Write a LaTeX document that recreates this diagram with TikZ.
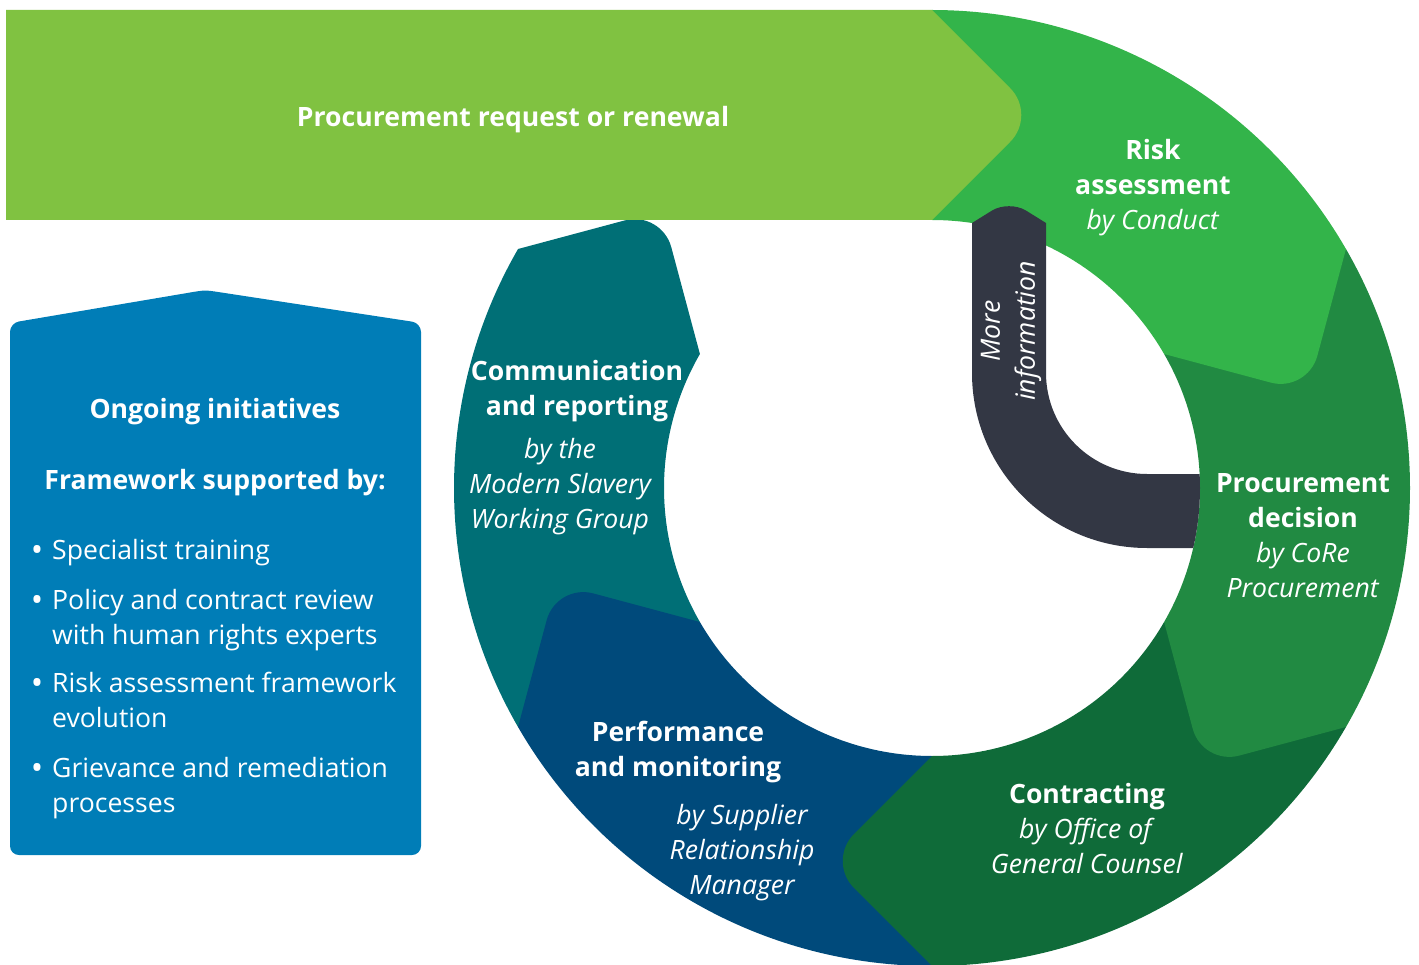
\documentclass[tikz,border=0pt]{standalone}
\usepackage{fontspec}
\setmainfont{Open Sans}
\usetikzlibrary{calc}
\definecolor{cband}{HTML}{80C241}
\definecolor{crisk}{HTML}{33B44A}
\definecolor{cdec}{HTML}{218A42}
\definecolor{ccont}{HTML}{0F6B39}
\definecolor{cperf}{HTML}{004A7B}
\definecolor{ccomm}{HTML}{006F76}
\definecolor{cdark}{HTML}{333744}
\definecolor{cbox}{HTML}{007DB7}
\newcommand\ringseg[3]{%
  \coordinate (T) at ({#3-15.72}:387.5);
  \coordinate (O) at (#3:478);
  \coordinate (I) at (#3:268);
  \fill[#1] (#2:478) arc[start angle=#2, end angle=#3, radius=478]
    -- ($(T)!38pt!(O)$) .. controls ($(T)!17pt!(O)$) and ($(T)!17pt!(I)$) .. ($(T)!38pt!(I)$)
    -- (I) arc[start angle=#3, end angle=#2, radius=268] -- cycle;
}
\tikzset{
  wt/.style={text=white, inner sep=0pt, align=center},
  bf/.style={wt, font=\fontsize{26.6}{35}\selectfont\bfseries},
  it/.style={wt, font=\fontsize{26.6}{35}\selectfont\itshape},
  mx/.style={wt, font=\fontsize{26.6}{35}\selectfont},
  rm/.style={wt, align=left, font=\fontsize{26.6}{35}\selectfont},
  dot/.style={wt, font=\fontsize{33}{35}\selectfont},
}
\begin{document}
\begin{tikzpicture}[x=1pt,y=1pt]
\useasboundingbox (0,0) rectangle (1419,-965);
% ring segments (drawn from last to first so each tip overlaps the next)
\begin{scope}[shift={(932,-488)}]
  \ringseg{ccomm}{-150}{-210}
  \ringseg{cperf}{-90}{-150}
  \ringseg{ccont}{-30}{-90}
  \ringseg{cdec}{30}{-30}
  \ringseg{crisk}{90}{30}
\end{scope}
% top band
\coordinate (BT) at (1037,-115);
\coordinate (B1) at (932,-10);
\coordinate (B2) at (932,-220);
\fill[cband] (6,-10) -- (B1) -- ($(BT)!38pt!(B1)$) .. controls ($(BT)!17pt!(B1)$) and ($(BT)!17pt!(B2)$) .. ($(BT)!38pt!(B2)$) -- (B2) -- (6,-220) -- cycle;
% more information band
\coordinate (DT) at (1009,-200);
\coordinate (D1) at (972,-223);
\coordinate (D2) at (1046,-223);
\fill[cdark] (972,-373) -- (D1) -- ($(DT)!20pt!(D1)$) .. controls ($(DT)!9pt!(D1)$) and ($(DT)!9pt!(D2)$) .. ($(DT)!20pt!(D2)$) -- (D2) -- (1046,-373)
  arc[start angle=180, end angle=270, radius=101]
  -- ($(932,-488)+(2.99:268)$) arc[start angle=2.99, end angle=-12.94, radius=268]
  -- (1147,-548) arc[start angle=270, end angle=180, radius=175] -- cycle;
% left box
\coordinate (PK) at (205,-290);
\fill[cbox, rounded corners=9pt] (10,-855) -- (10,-323) -- ($(PK)!24pt!(10,-323)$) .. controls (PK) and (PK) .. ($(PK)!24pt!(421,-323)$) -- (421,-323) -- (421,-855) -- cycle;
% texts (anchor base = baseline of the last line)
\node[bf, anchor=base] (req) at (513,-127) {Procurement request or renewal};
\node[mx, anchor=base] (risk) at (1153,-230) {\textbf{Risk}\\\textbf{assessment}\\\textit{by Conduct}};
\node[mx, anchor=base] (dec) at (1303,-597) {\textbf{Procurement}\\\textbf{decision}\\\textit{by CoRe}\\\textit{Procurement}};
\node[mx, anchor=base] (cont) at (1087,-873) {\textbf{Contracting}\\\textit{by Office of}\\\textit{General Counsel}};
\node[bf, anchor=base] (perf) at (678,-776) {Performance\\and monitoring};
\node[it, anchor=base] (perfby) at (742,-894) {by Supplier\\Relationship\\Manager};
\node[bf, anchor=base] (comm) at (577,-415) {Communication\\and reporting};
\node[it, anchor=base] (commby) at (560,-528) {by the\\Modern Slavery\\Working Group};
\node[it, rotate=90] (more) at (1011,-331) {More\\information};
% box texts
\node[bf, anchor=base] (ongo) at (215,-419) {Ongoing initiatives};
\node[bf, anchor=base] (frame) at (215,-489) {Framework supported by:};
\node[dot, anchor=base] (d1) at (37,-561) {•};
\node[rm, anchor=base west] (i1) at (52,-559) {Specialist training};
\node[dot, anchor=base] (d2) at (37,-611) {•};
\node[rm, anchor=base west] (i2) at (52,-644) {Policy and contract review\\with human rights experts};
\node[dot, anchor=base] (d3) at (37,-694) {•};
\node[rm, anchor=base west] (i3) at (52,-727) {Risk assessment framework\\evolution};
\node[dot, anchor=base] (d4) at (37,-779) {•};
\node[rm, anchor=base west] (i4) at (52,-812) {Grievance and remediation\\processes};
\end{tikzpicture}
\end{document}
